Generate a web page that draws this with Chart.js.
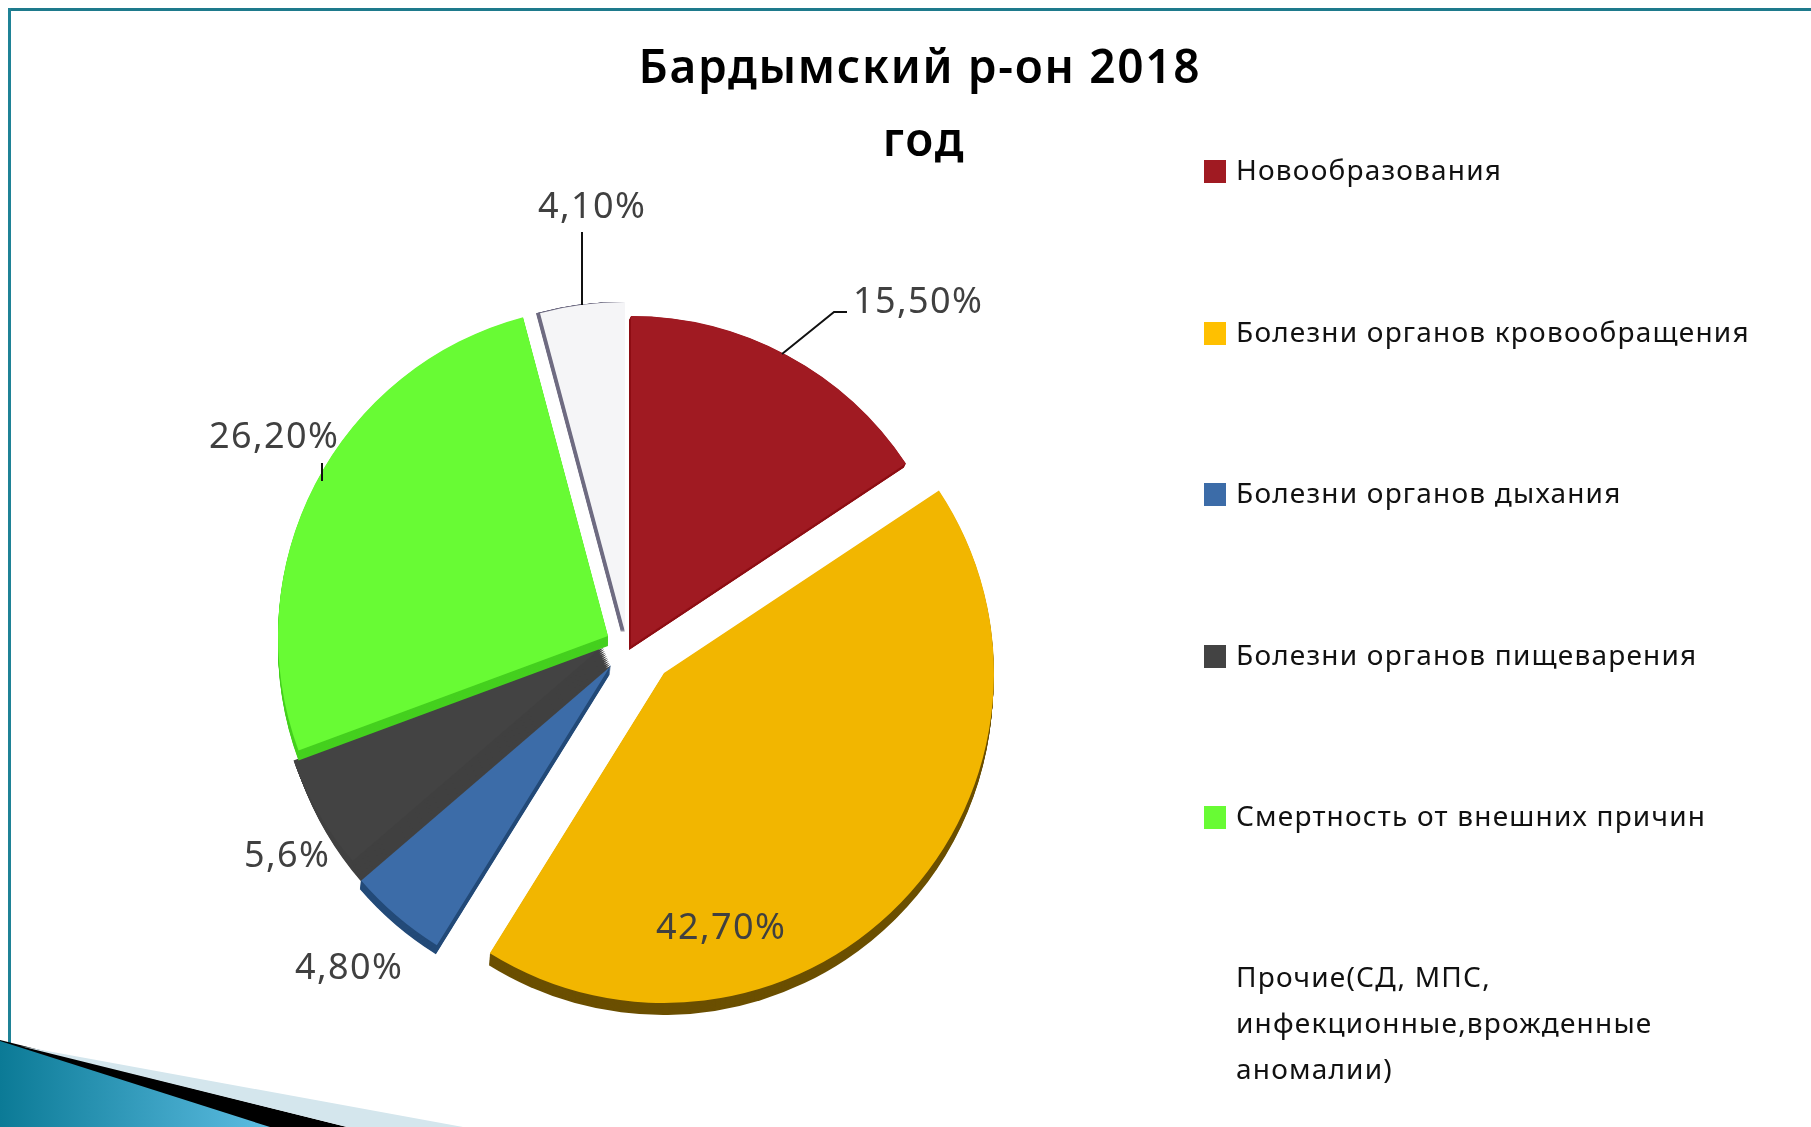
<!DOCTYPE html>
<html lang="ru">
<head>
<meta charset="utf-8">
<title>Бардымский р-он 2018 год</title>
<script src="https://cdn.jsdelivr.net/npm/chart.js@4/dist/chart.umd.min.js"></script>
<style>
    html, body { margin: 0; padding: 0; background: #fff; overflow: hidden; }
    #page { position: relative; width: 1811px; height: 1127px; overflow: hidden; }
    #page svg, #pie { position: absolute; left: 0; top: 0; }
    #chartTitle {
        position: absolute; left: 520px; width: 800px; top: 29px;
        text-align: center; color: #000;
        font: 600 46px/73px "Noto Sans", sans-serif; letter-spacing: 1.7px;
    }
    #chartTitle span { position: relative; left: 4px; }
    .legendItem {
        position: absolute; left: 1236px; width: 520px; color: #111;
        font: 28px/46px "Noto Sans", sans-serif; letter-spacing: 1.2px;
    }
    .legendBox { position: absolute; left: 1204px; width: 22px; height: 23px; }
</style>
</head>
<body>
<div id="page">
    <svg width="1811" height="1127">
        <defs>
            <linearGradient id="cornerFill" x1="0" y1="0" x2="1" y2="0">
                <stop offset="0" stop-color="#0b7a96"/>
                <stop offset="1" stop-color="#5dbde2"/>
            </linearGradient>
        </defs>
        <rect x="8" y="8" width="1803" height="3" fill="#1e7a8c"/>
        <rect x="8" y="8" width="3" height="1119" fill="#1f8296"/>
        <polygon points="0,1040 347,1127 270,1127 0,1127" fill="#000"/>
        <polygon points="0,1041 270,1127 0,1127" fill="url(#cornerFill)"/>
        <polygon points="20,1046 463,1127 347,1127" fill="#d4e6ed"/>
    </svg>
    <canvas id="pie" width="1811" height="1127"></canvas>
    <div id="chartTitle">Бардымский р-он 2018<br><span>год</span></div>
</div>

<script>
    var categories = [
        "Новообразования",
        "Болезни органов кровообращения",
        "Болезни органов дыхания",
        "Болезни органов пищеварения",
        "Смертность от внешних причин",
        "Прочие(СД, МПС,<br>инфекционные,врожденные<br>аномалии)"
    ];
    var shares = [15.5, 42.7, 4.8, 5.6, 26.2, 4.1];
    var shareLabels = ["15,50%", "42,70%", "4,80%", "5,6%", "26,20%", "4,10%"];

    var faceColors = ["#a01a22", "#f2b600", "#3c6ca8", "#434343", "#68fb34", "#f5f5f7"];
    var wallColors = ["#8e0f15", "#6b4f00", "#234a78", "#404040", "#45d01f", "#6f6c82"];
    var legendColors = ["#a01a22", "#ffc000", "#3c6ca8", "#434343", "#68fb34", "#ffffff"];

    // exploded slices: how far each one moves from the pie centre, in px
    var explodeX = [2, 35, -18, -26, -21, -4];
    var explodeY = [1, 28, 20, 1, -9, -13];
    // fake 3d side of each slice: shift of the wall under the face
    var wallShiftX = [-2, -1, -1, 8, 0, -4];
    var wallShiftY = [4, 12, 9, 20, 10, 0];
    var drawOrder = [5, 0, 1, 2, 3, 4];

    // label baseline start, then leader line points
    var labelX = [853, 656, 295, 244, 209, 538];
    var labelY = [313, 939, 979, 867, 448, 218];
    var leaders = [
        [[782, 354], [834, 312], [847, 312]],
        [],
        [],
        [],
        [[322, 463], [322, 481]],
        [[582, 232], [582, 305]]
    ];

    var legendTops = [160, 322, 483, 645, 806, 967];

    var page = document.getElementById("page");
    categories.forEach(function (name, i) {
        var box = document.createElement("div");
        box.className = "legendBox";
        box.style.top = legendTops[i] + "px";
        box.style.background = legendColors[i];
        page.appendChild(box);
        var item = document.createElement("div");
        item.className = "legendItem";
        item.style.top = (legendTops[i] - 14) + "px";
        item.innerHTML = name;
        page.appendChild(item);
    });

    var slicePlugin = {
        id: "slices",
        beforeDatasetDraw: function (chart, args) {
            var ctx = chart.ctx;
            var arcs = chart.getDatasetMeta(args.index).data;
            drawOrder.forEach(function (i) {
                var arc = arcs[i];
                var p = arc.getProps(["x", "y", "startAngle", "endAngle", "outerRadius"], true);
                ctx.save();
                ctx.translate(explodeX[i], explodeY[i]);
                // the wall is the same wedge swept along the shift, darker
                ctx.fillStyle = wallColors[i];
                for (var step = 12; step > 0; step--) {
                    var x = p.x + wallShiftX[i] * step / 12;
                    var y = p.y + wallShiftY[i] * step / 12;
                    ctx.beginPath();
                    ctx.moveTo(x, y);
                    ctx.arc(x, y, p.outerRadius, p.startAngle, p.endAngle);
                    ctx.closePath();
                    ctx.fill();
                }
                arc.draw(ctx);
                ctx.restore();
            });
            return false;
        },
        afterDatasetsDraw: function (chart) {
            var ctx = chart.ctx;
            ctx.save();
            ctx.strokeStyle = "#111";
            ctx.lineWidth = 2;
            leaders.forEach(function (pts) {
                if (!pts.length) return;
                ctx.beginPath();
                pts.forEach(function (pt, n) {
                    if (n === 0) ctx.moveTo(pt[0], pt[1]);
                    else ctx.lineTo(pt[0], pt[1]);
                });
                ctx.stroke();
            });
            ctx.fillStyle = "#404040";
            ctx.font = '36px "Noto Sans", sans-serif';
            ctx.letterSpacing = "1.4px";
            ctx.textBaseline = "alphabetic";
            shareLabels.forEach(function (text, i) {
                ctx.fillText(text, labelX[i], labelY[i]);
            });
            ctx.restore();
        }
    };

    new Chart(document.getElementById("pie"), {
        type: "pie",
        plugins: [slicePlugin],
        data: {
            labels: categories,
            datasets: [{
                data: shares,
                backgroundColor: faceColors,
                borderWidth: 0
            }]
        },
        options: {
            responsive: false,
            animation: false,
            layout: { padding: { left: 298, right: 851, top: 315, bottom: 152 } },
            plugins: {
                legend: { display: false },
                tooltip: { enabled: false }
            }
        }
    });
</script>
</body>
</html>
